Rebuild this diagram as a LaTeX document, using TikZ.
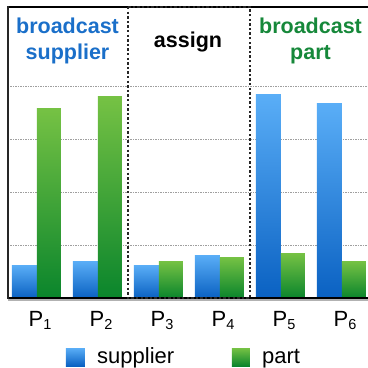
\documentclass[tikz,border=0pt]{standalone}
\usepackage{fontspec}
\setmainfont{Liberation Sans}
\definecolor{supTop}{HTML}{5AAEF7}
\definecolor{supBot}{HTML}{0A61C2}
\definecolor{partTop}{HTML}{76C244}
\definecolor{partBot}{HTML}{0A852C}
\definecolor{supText}{HTML}{1A6FC9}
\definecolor{partText}{HTML}{16883A}
\tikzset{
  supbar/.style={top color=supTop,bottom color=supBot},
  partbar/.style={top color=partTop,bottom color=partBot},
  grid line/.style={gray!75,line width=0.7pt,dash pattern=on 1.3pt off 1.2pt},
  assignbox/.style={black!85,line width=1.8pt,dash pattern=on 2.4pt off 2.2pt},
  title/.style={inner sep=0pt,anchor=base,align=center,font=\fontsize{21.5}{26}\selectfont\bfseries},
  plabel/.style={inner sep=0pt,anchor=base,font=\fontsize{22}{26}\selectfont},
  legtext/.style={inner sep=0pt,anchor=base west,font=\fontsize{22}{26}\selectfont}
}
\newcommand\psub[1]{P\raisebox{-3pt}{\fontsize{14.5}{15}\selectfont #1}}
\begin{document}
\begin{tikzpicture}[x=1pt,y=-1pt]
\useasboundingbox (0,0) rectangle (368,368);
% horizontal grid
\foreach \y in {86,139,192,245}
  \draw[grid line] (8,\y) -- (368,\y);
% bars: left edge / supplier top / part top
\foreach \xl/\bs/\ps in {12/265/108,73/261/96,134/265/261,195/255/257,256/94/253,317/103/261}{
  \shade[supbar] (\xl,298) rectangle ({\xl+25},\bs);
  \shade[partbar] ({\xl+25},298) rectangle ({\xl+49},\ps);
}
% frame
\draw[gray!60,line width=1.5pt] (8,300) -- (368,300);
\draw[black,line width=2pt] (8,298) -- (368,298);
\draw[black,line width=1.2pt] (8,7) -- (368,7);
\draw[black!85,line width=2pt] (8,6.4) -- (8,299);
% middle region
\draw[assignbox] (128,7) rectangle (250,298);
% region titles (anchored at the baseline of the last line)
\node[title,text=supText] (tsup) at (67.5,59) {broadcast\\supplier};
\node[title] (tasg) at (188,47) {assign};
\node[title,text=partText] (tpart) at (310.5,59) {broadcast\\part};
% category labels
\node[plabel] (p1) at (40,326) {\psub{1}};
\node[plabel] (p2) at (101,326) {\psub{2}};
\node[plabel] (p3) at (162,326) {\psub{3}};
\node[plabel] (p4) at (223,326) {\psub{4}};
\node[plabel] (p5) at (284,326) {\psub{5}};
\node[plabel] (p6) at (345,326) {\psub{6}};
% legend
\shade[supbar] (66,348) rectangle (85,366);
\node[legtext] (lsup) at (97,363) {supplier};
\shade[partbar] (232,348) rectangle (250,366);
\node[legtext] (lpart) at (262,363) {part};
\end{tikzpicture}
\end{document}
